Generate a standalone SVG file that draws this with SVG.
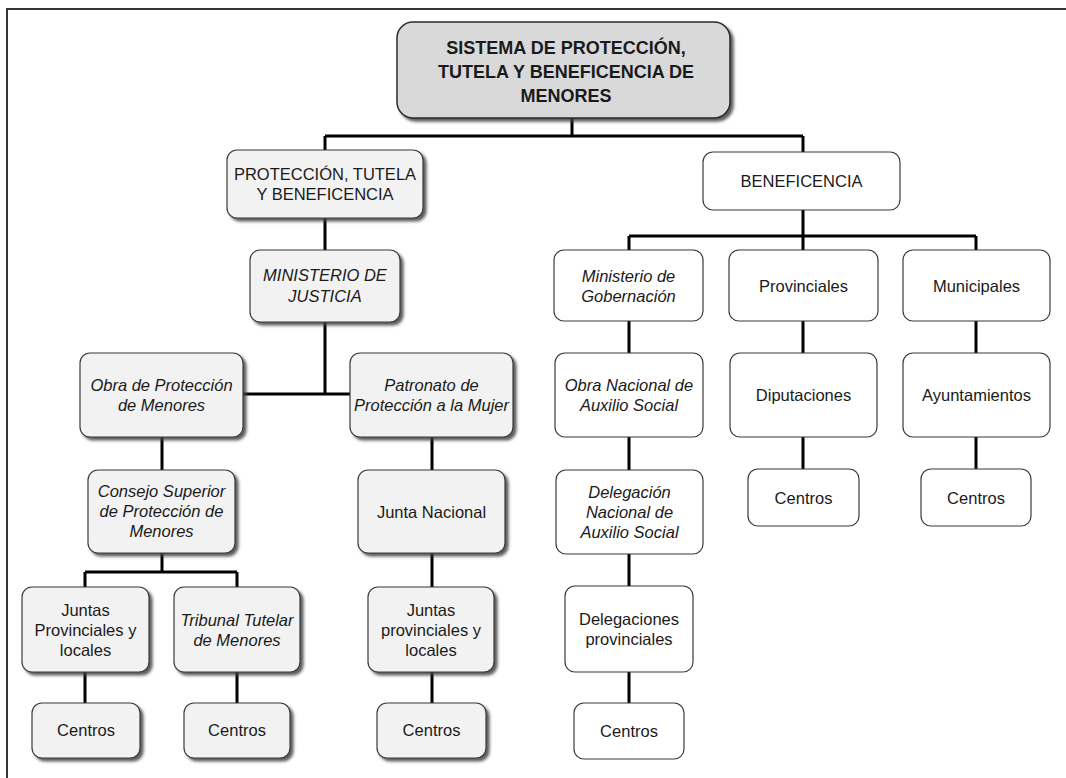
<svg xmlns="http://www.w3.org/2000/svg" width="1066" height="778" viewBox="0 0 1066 778">
<defs>
<filter id="sh" x="-10%" y="-10%" width="130%" height="130%">
<feDropShadow dx="3" dy="3" stdDeviation="1.5" flood-color="#404040" flood-opacity="0.85"/>
</filter>
<style>
.lt{fill:#f2f2f2;stroke:#3a3a3a;stroke-width:1.2;filter:url(#sh)}
.wh{fill:#ffffff;stroke:#3a3a3a;stroke-width:1.2}
.tt{fill:#d9d9d9;stroke:#2a2a2a;stroke-width:1.5;filter:url(#sh)}
text{font-family:"Liberation Sans",Arial,sans-serif;font-size:16.5px;fill:#1a1a1a;text-anchor:middle}
.it{font-style:italic}
.b{font-weight:bold;font-size:18px}
.cn{fill:none;stroke:#000;stroke-width:3}
</style>
</defs>
<rect width="1066" height="778" fill="#ffffff"/>
<rect x="7" y="9" width="1100" height="800" fill="none" stroke="#333" stroke-width="2"/>
<g id="connectors" class="cn">
<path d="M572,118V136M325,136H803M325,136V150M803,136V152"/>
<path d="M325,218V250M325,322V394M243,394H350"/>
<path d="M162,437V470M432,437V470"/>
<path d="M162,553V572M85,572H237M85,572V587M237,572V587"/>
<path d="M85,672V703M237,672V703M432,553V587M432,672V703"/>
<path d="M803,210V236M629,236H976M629,236V250M803,236V250M976,236V250"/>
<path d="M629,321V353M803,321V353M976,321V353"/>
<path d="M629,437V470M803,437V469M976,437V469"/>
<path d="M629,554V586M629,672V703"/>
</g>
<g id="n-title"><rect class="tt" x="397" y="22" width="333" height="96" rx="16"/>
<text class="b" x="566" y="54">SISTEMA DE PROTECCIÓN,</text><text class="b" x="566" y="78">TUTELA Y BENEFICENCIA DE</text><text class="b" x="566" y="102">MENORES</text></g>
<g id="n-ptb"><rect class="lt" x="227" y="150" width="196" height="68" rx="10"/>
<text x="325" y="180">PROTECCIÓN, TUTELA</text><text x="325" y="200">Y BENEFICENCIA</text></g>
<g id="n-ben"><rect class="wh" x="703" y="152" width="197" height="58" rx="10"/>
<text x="801.5" y="187">BENEFICENCIA</text></g>
<g id="n-mj"><rect class="lt" x="250" y="250" width="150" height="72" rx="10"/>
<text class="it" x="325" y="281">MINISTERIO DE</text><text class="it" x="325" y="302">JUSTICIA</text></g>
<g id="n-obra"><rect class="lt" x="80" y="353" width="163" height="84" rx="10"/>
<text class="it" x="161.5" y="391">Obra de Protección</text><text class="it" x="161.5" y="411">de Menores</text></g>
<g id="n-patr"><rect class="lt" x="350" y="353" width="163" height="84" rx="10"/>
<text class="it" x="431.5" y="391">Patronato de</text><text class="it" x="431.5" y="411">Protección a la Mujer</text></g>
<g id="n-consejo"><rect class="lt" x="88" y="470" width="147" height="83" rx="10"/>
<text class="it" x="161.5" y="497">Consejo Superior</text><text class="it" x="161.5" y="517">de Protección de</text><text class="it" x="161.5" y="537">Menores</text></g>
<g id="n-jn"><rect class="lt" x="358" y="470" width="147" height="83" rx="10"/>
<text x="431.5" y="517.5">Junta Nacional</text></g>
<g id="n-jpl"><rect class="lt" x="22" y="587" width="127" height="85" rx="10"/>
<text x="85.5" y="616">Juntas</text><text x="85.5" y="636">Provinciales y</text><text x="85.5" y="656">locales</text></g>
<g id="n-ttm"><rect class="lt" x="174" y="587" width="126" height="85" rx="10"/>
<text class="it" x="237" y="625.5">Tribunal Tutelar</text><text class="it" x="237" y="645.5">de Menores</text></g>
<g id="n-jpl2"><rect class="lt" x="368" y="587" width="126" height="85" rx="10"/>
<text x="431" y="616">Juntas</text><text x="431" y="636">provinciales y</text><text x="431" y="656">locales</text></g>
<g id="n-c1"><rect class="lt" x="32" y="703" width="108" height="55" rx="10"/><text x="86" y="736">Centros</text></g>
<g id="n-c2"><rect class="lt" x="184" y="703" width="106" height="55" rx="10"/><text x="237" y="736">Centros</text></g>
<g id="n-c3"><rect class="lt" x="377" y="703" width="109" height="55" rx="10"/><text x="431.5" y="736">Centros</text></g>
<g id="n-mg"><rect class="wh" x="554" y="250" width="149" height="71" rx="10"/>
<text class="it" x="628.5" y="282">Ministerio de</text><text class="it" x="628.5" y="302">Gobernación</text></g>
<g id="n-prov"><rect class="wh" x="729" y="250" width="149" height="71" rx="10"/><text x="803.5" y="291.5">Provinciales</text></g>
<g id="n-mun"><rect class="wh" x="903" y="250" width="147" height="71" rx="10"/><text x="976.5" y="291.5">Municipales</text></g>
<g id="n-onas"><rect class="wh" x="555" y="353" width="148" height="84" rx="10"/>
<text class="it" x="629" y="391">Obra Nacional de</text><text class="it" x="629" y="411">Auxilio Social</text></g>
<g id="n-dip"><rect class="wh" x="730" y="353" width="147" height="84" rx="10"/><text x="803.5" y="401">Diputaciones</text></g>
<g id="n-ayu"><rect class="wh" x="903" y="353" width="147" height="84" rx="10"/><text x="976.5" y="401">Ayuntamientos</text></g>
<g id="n-dnas"><rect class="wh" x="556" y="470" width="147" height="84" rx="10"/>
<text class="it" x="629.5" y="498">Delegación</text><text class="it" x="629.5" y="518">Nacional de</text><text class="it" x="629.5" y="538">Auxilio Social</text></g>
<g id="n-cdip"><rect class="wh" x="748" y="469" width="111" height="57" rx="10"/><text x="803.5" y="503.5">Centros</text></g>
<g id="n-cayu"><rect class="wh" x="921" y="469" width="110" height="57" rx="10"/><text x="976" y="503.5">Centros</text></g>
<g id="n-dp"><rect class="wh" x="565" y="586" width="128" height="86" rx="10"/>
<text x="629" y="625">Delegaciones</text><text x="629" y="645">provinciales</text></g>
<g id="n-cdp"><rect class="wh" x="574" y="703" width="110" height="56" rx="10"/><text x="629" y="737">Centros</text></g>
</svg>
